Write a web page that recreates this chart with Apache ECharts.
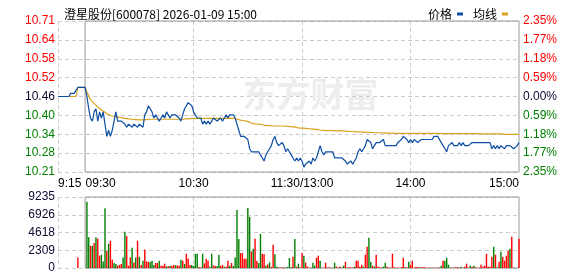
<!DOCTYPE html>
<html><head><meta charset="utf-8">
<script src="https://cdn.jsdelivr.net/npm/echarts@6/dist/echarts.min.js"></script>
<style>html,body{margin:0;padding:0;background:#fff}#c{width:578px;height:276px}</style>
</head><body><div id="c"></div>
<script>
const titleText = '澄星股份[600078] 2026-01-09 15:00';
const prevClose = 10.46;
const pctRange = 2.35;
// tick labels, bottom to top
const priceLabels = ['10.21','10.28','10.34','10.40','10.46','10.52','10.58','10.64','10.71'];
const pctLabels = ['2.35%','1.77%','1.18%','0.59%','0.00%','0.59%','1.18%','1.77%','2.35%'];
const volLabels = ['0','2309','4618','6926','9235'];
const volMax = 9235;
const timeTickCats = ['09:15','09:30','10:30','11:30','14:00','15:00'];
const timeTickLabels = ['9:15','09:30','10:30','11:30/13:00','14:00','15:00'];

// pre-market 09:15 - 09:29
const prePrice = [10.46,10.46,10.46,10.46,10.46,10.46,10.46,10.47,10.47,10.47,10.47,10.49,10.49,10.49,10.49];
const preAvg = [10.46,10.46,10.46,10.46,10.46,10.46,10.46,10.46,10.46,10.46,10.46,10.49,10.49,10.49,10.49];
const preVol = [0,0,0,0,0,0,0,0,0,0,0,1370,0,0,0];
const preDir = [0,0,0,0,0,0,0,0,0,0,0,1,0,0,0];

// session 09:30 - 11:30, 13:01 - 15:00
const price = [
10.49,10.46,10.42,10.39,10.38,10.41,10.42,10.38,10.41,10.39,
10.41,10.37,10.33,10.35,10.33,10.35,10.38,10.41,10.38,10.38,
10.38,10.38,10.37,10.36,10.37,10.37,10.36,10.37,10.37,10.36,
10.37,10.37,10.36,10.40,10.41,10.43,10.42,10.41,10.39,10.40,
10.39,10.38,10.39,10.40,10.39,10.41,10.40,10.39,10.40,10.40,
10.40,10.40,10.39,10.38,10.40,10.42,10.43,10.44,10.44,10.43,
10.41,10.40,10.39,10.39,10.39,10.37,10.38,10.37,10.38,10.37,
10.38,10.39,10.39,10.38,10.38,10.39,10.38,10.39,10.40,10.39,
10.40,10.40,10.40,10.39,10.37,10.35,10.33,10.33,10.33,10.33,
10.32,10.29,10.28,10.28,10.28,10.28,10.28,10.27,10.26,10.25,
10.27,10.28,10.29,10.30,10.32,10.33,10.31,10.30,10.30,10.31,
10.30,10.28,10.29,10.28,10.27,10.26,10.25,10.26,10.25,10.26,
10.25,10.23,10.24,10.24,10.25,10.24,10.26,10.25,10.26,10.28,
10.30,10.28,10.27,10.28,10.28,10.28,10.28,10.28,10.26,10.26,
10.26,10.26,10.26,10.26,10.25,10.24,10.24,10.25,10.24,10.25,
10.26,10.28,10.29,10.28,10.29,10.30,10.32,10.32,10.31,10.29,
10.30,10.31,10.31,10.31,10.31,10.32,10.30,10.30,10.30,10.30,
10.30,10.30,10.30,10.31,10.31,10.32,10.33,10.33,10.32,10.31,
10.32,10.31,10.32,10.32,10.31,10.31,10.32,10.32,10.32,10.32,
10.32,10.32,10.32,10.33,10.33,10.33,10.33,10.31,10.30,10.30,
10.28,10.30,10.30,10.31,10.30,10.30,10.30,10.31,10.30,10.31,
10.30,10.30,10.30,10.30,10.31,10.31,10.31,10.31,10.31,10.31,
10.31,10.31,10.31,10.31,10.31,10.29,10.30,10.29,10.30,10.29,
10.30,10.30,10.29,10.30,10.30,10.30,10.30,10.29,10.29,10.30,
10.31];

const avg = [
10.490,10.475,10.462,10.450,10.443,10.437,10.432,10.426,10.421,10.417,
10.413,10.408,10.404,10.401,10.398,10.396,10.395,10.394,10.393,10.392,
10.391,10.390,10.389,10.388,10.387,10.387,10.386,10.386,10.385,10.385,
10.384,10.384,10.384,10.384,10.385,10.385,10.386,10.386,10.386,10.386,
10.386,10.386,10.386,10.386,10.386,10.386,10.386,10.386,10.386,10.386,
10.386,10.386,10.386,10.386,10.386,10.387,10.387,10.388,10.388,10.389,
10.389,10.389,10.389,10.389,10.389,10.389,10.389,10.389,10.389,10.389,
10.389,10.389,10.389,10.389,10.389,10.389,10.389,10.389,10.389,10.389,
10.389,10.389,10.389,10.388,10.386,10.384,10.383,10.382,10.381,10.380,
10.379,10.376,10.373,10.372,10.371,10.370,10.370,10.369,10.368,10.366,
10.365,10.365,10.365,10.364,10.364,10.364,10.364,10.364,10.364,10.364,
10.364,10.364,10.363,10.363,10.362,10.361,10.360,10.359,10.358,10.358,
10.357,10.356,10.356,10.355,10.355,10.355,10.354,10.354,10.353,10.352,
10.351,10.350,10.350,10.350,10.349,10.349,10.349,10.349,10.349,10.348,
10.348,10.348,10.348,10.347,10.347,10.346,10.346,10.346,10.346,10.346,
10.345,10.345,10.345,10.345,10.344,10.344,10.343,10.343,10.343,10.342,
10.342,10.342,10.342,10.342,10.342,10.342,10.341,10.341,10.341,10.341,
10.341,10.341,10.340,10.340,10.340,10.340,10.340,10.340,10.340,10.340,
10.340,10.340,10.340,10.340,10.340,10.340,10.340,10.340,10.340,10.340,
10.340,10.340,10.340,10.340,10.340,10.340,10.340,10.339,10.339,10.339,
10.339,10.339,10.339,10.339,10.339,10.339,10.339,10.339,10.339,10.339,
10.339,10.339,10.339,10.339,10.339,10.339,10.339,10.338,10.338,10.338,
10.338,10.338,10.338,10.338,10.338,10.338,10.338,10.338,10.338,10.338,
10.338,10.338,10.337,10.337,10.337,10.337,10.337,10.337,10.337,10.337,
10.337];

const vol = [
0,8630,4015,2890,2890,3240,4015,3800,1600,1720,
860,7770,2240,3150,3540,1075,650,520,300,400,
520,1370,4700,4140,300,1370,2630,730,1370,3540,
1460,400,950,2410,860,780,780,950,400,650,
650,950,300,300,560,215,215,300,300,400,
340,340,300,1075,950,520,1850,1250,400,390,
260,1850,1850,130,80,1850,600,1200,950,170,
1850,340,260,260,1720,260,400,170,170,950,
300,650,260,1370,7550,3760,1940,1940,1200,1200,
7810,6650,2160,2500,3800,900,650,4440,1850,1780,
300,450,730,150,3020,1800,170,60,60,60,
60,80,150,1300,100,1460,3780,160,560,80,
1940,1600,690,170,40,40,690,300,1330,1600,
950,40,40,690,40,110,40,40,690,170,
40,170,40,300,820,40,110,110,40,170,
950,950,170,430,170,1730,2760,3930,820,300,
170,1730,170,110,40,170,690,170,40,40,
1850,110,40,40,40,110,1330,110,110,820,
430,950,40,170,110,110,110,110,110,40,
40,40,40,40,40,40,40,300,950,950,
1330,430,40,40,40,110,110,40,170,40,
170,560,40,300,170,300,110,40,40,430,
170,300,1850,170,170,1460,2760,1730,110,820,
2110,1460,950,1600,2240,2500,4050,40,0,0,
3800];

// 1 = up (red), -1 = down (green)
const volDir = [
0,-1,-1,1,-1,1,-1,1,1,-1,
-1,-1,1,-1,1,1,-1,-1,1,1,
1,-1,-1,1,1,1,-1,1,-1,1,
-1,1,-1,1,1,1,-1,-1,-1,1,
1,-1,1,1,1,-1,1,-1,1,1,
-1,1,1,-1,1,-1,1,1,1,-1,
-1,-1,-1,1,1,-1,1,1,1,-1,
-1,1,1,-1,-1,1,1,-1,1,1,
-1,1,-1,-1,-1,-1,1,1,1,1,
-1,-1,1,-1,1,1,-1,-1,1,1,
-1,1,-1,1,1,-1,-1,1,1,1,
1,-1,-1,-1,-1,1,-1,1,-1,1,
1,-1,1,1,1,1,-1,-1,1,1,
-1,1,1,1,1,1,1,-1,-1,1,
1,1,-1,-1,1,1,1,1,1,-1,
1,1,1,1,-1,1,1,-1,-1,1,
-1,1,1,1,1,-1,-1,1,1,1,
1,1,1,1,1,1,1,-1,1,-1,
1,1,1,1,1,-1,1,1,1,1,
1,1,1,1,1,1,1,-1,1,-1,
-1,-1,1,1,1,1,1,1,-1,1,
1,1,1,-1,1,-1,1,1,1,1,
1,1,1,1,1,1,-1,1,-1,1,
-1,1,1,1,1,-1,1,-1,0,0,
1];

// category times
const cats = [];
const pad = n => (n < 10 ? '0' : '') + n;
for (let t = 9*60+15; t <= 11*60+30; t++) cats.push(pad(Math.floor(t/60)) + ':' + pad(t%60));
for (let t = 13*60+1; t <= 15*60; t++) cats.push(pad(Math.floor(t/60)) + ':' + pad(t%60));

const priceAll = prePrice.concat(price);
const avgAll = preAvg.concat(avg);
const volAll = preVol.concat(vol);
const dirAll = preDir.concat(volDir);

const UP = '#ff0000', DOWN = '#008000', FLAT = '#0a0a30';
const yMin = prevClose * (1 - pctRange/100);
const yMax = prevClose * (1 + pctRange/100);
const yStep = (yMax - yMin) / 8;
const tIdx = v => Math.round((v - yMin) / yStep);
const tickCol = v => { const i = tIdx(v); return i > 4 ? UP : (i < 4 ? DOWN : FLAT); };
const splitIdx = ['09:15','10:30','11:30','14:00'].map(c => cats.indexOf(c));
const labelIdx = timeTickCats.map(c => cats.indexOf(c));
const FONT = 'Liberation Sans, Arial, sans-serif';
const CJK = 'Noto Sans CJK SC, sans-serif';
const dash = {color:'#cccccc', type:[4,3], width:1};
const frameStyle = {color:'rgba(0,0,0,0)', borderColor:'#999999', borderWidth:1};

const chart = echarts.init(document.getElementById('c'), null, {renderer:'canvas'});
chart.setOption({
  animation:false,
  backgroundColor:'#ffffff',
  title:{text:titleText, left:59, top:3, textStyle:{fontSize:12, fontWeight:'normal', color:'#000', fontFamily:CJK}},
  legend:{right:65, top:3, align:'right', icon:'rect', itemWidth:6, itemHeight:3, itemGap:10,
    textStyle:{fontSize:12, color:'#000', fontFamily:CJK}, data:['价格','均线']},
  grid:[{left:58, top:21, width:461, height:151},
        {left:58, top:197, width:461, height:71}],
  xAxis:[
    {gridIndex:0, type:'category', data:cats, boundaryGap:false,
      axisLine:{show:false}, axisTick:{show:false},
      splitLine:{show:true, interval:(i)=>splitIdx.includes(i), lineStyle:dash},
      axisLabel:{interval:(i)=>labelIdx.includes(i), margin:6, fontSize:12, color:'#000', fontFamily:FONT,
        alignMinLabel:'left', alignMaxLabel:'right',
        formatter:(v)=>{ const k = timeTickCats.indexOf(v); if (k<0) return ''; return k===1 ? '{s|'+timeTickLabels[k]+'}' : timeTickLabels[k]; },
        rich:{s:{padding:[0,0,0,31], fontSize:12, color:'#000', fontFamily:FONT}}}},
    {gridIndex:1, type:'category', data:cats, boundaryGap:false,
      axisLine:{show:false}, axisTick:{show:false}, axisLabel:{show:false},
      splitLine:{show:true, interval:(i)=>splitIdx.includes(i), lineStyle:dash}}
  ],
  yAxis:[
    {gridIndex:0, type:'value', position:'left', min:yMin, max:yMax, interval:yStep,
      axisLine:{show:false}, axisTick:{show:false}, splitLine:{show:true, lineStyle:dash},
      axisLabel:{margin:3, fontSize:12, fontFamily:FONT, formatter:(v)=>priceLabels[tIdx(v)], color:tickCol}},
    {gridIndex:0, type:'value', position:'right', min:yMin, max:yMax, interval:yStep,
      axisLine:{show:false}, axisTick:{show:false}, splitLine:{show:false},
      axisLabel:{margin:4, fontSize:12, fontFamily:FONT, formatter:(v)=>pctLabels[tIdx(v)], color:tickCol}},
    {gridIndex:1, type:'value', position:'left', min:0, max:volMax, interval:volMax/4,
      axisLine:{show:false}, axisTick:{show:false}, splitLine:{show:true, lineStyle:dash},
      axisLabel:{margin:3, fontSize:12, fontFamily:FONT, color:FLAT, formatter:(v)=>volLabels[Math.round(v/(volMax/4))]}}
  ],
  series:[
    {name:'价格', type:'line', xAxisIndex:0, yAxisIndex:0, data:priceAll, showSymbol:false, symbol:'none',
      color:'#0d4fa3', lineStyle:{color:'#0d4fa3', width:1.2}, z:4,
      markArea:{silent:true, itemStyle:frameStyle, data:[[{xAxis:'09:30', yAxis:yMin},{xAxis:'15:00', yAxis:yMax}]]}},
    {name:'均线', type:'line', xAxisIndex:0, yAxisIndex:0, data:avgAll, showSymbol:false, symbol:'none',
      color:'#daa21e', lineStyle:{color:'#daa21e', width:1.2}, z:3},
    {name:'成交量', type:'bar', xAxisIndex:1, yAxisIndex:2, data:volAll, barWidth:1.4,
      itemStyle:{color:(p)=> dirAll[p.dataIndex] > 0 ? UP : DOWN}},
    {name:'volFrame', type:'line', xAxisIndex:1, yAxisIndex:2, data:volAll, showSymbol:false, symbol:'none',
      silent:true, lineStyle:{width:1, opacity:0}, z:1,
      markArea:{silent:true, itemStyle:frameStyle, data:[[{xAxis:'09:30', yAxis:0},{xAxis:'15:00', yAxis:volMax}]]}}
  ]
});

// watermark, positioned through the chart's own coordinate conversion
const wm = chart.convertToPixel({xAxisIndex:0, yAxisIndex:0}, ['10:57', 10.523]);
chart.setOption({graphic:[{type:'text', x:wm[0], y:wm[1], silent:true, z:0,
  style:{text:'东方财富', fontSize:34, fontWeight:'bold', fill:'#ededed', fontFamily:CJK}}]});
</script></body></html>
